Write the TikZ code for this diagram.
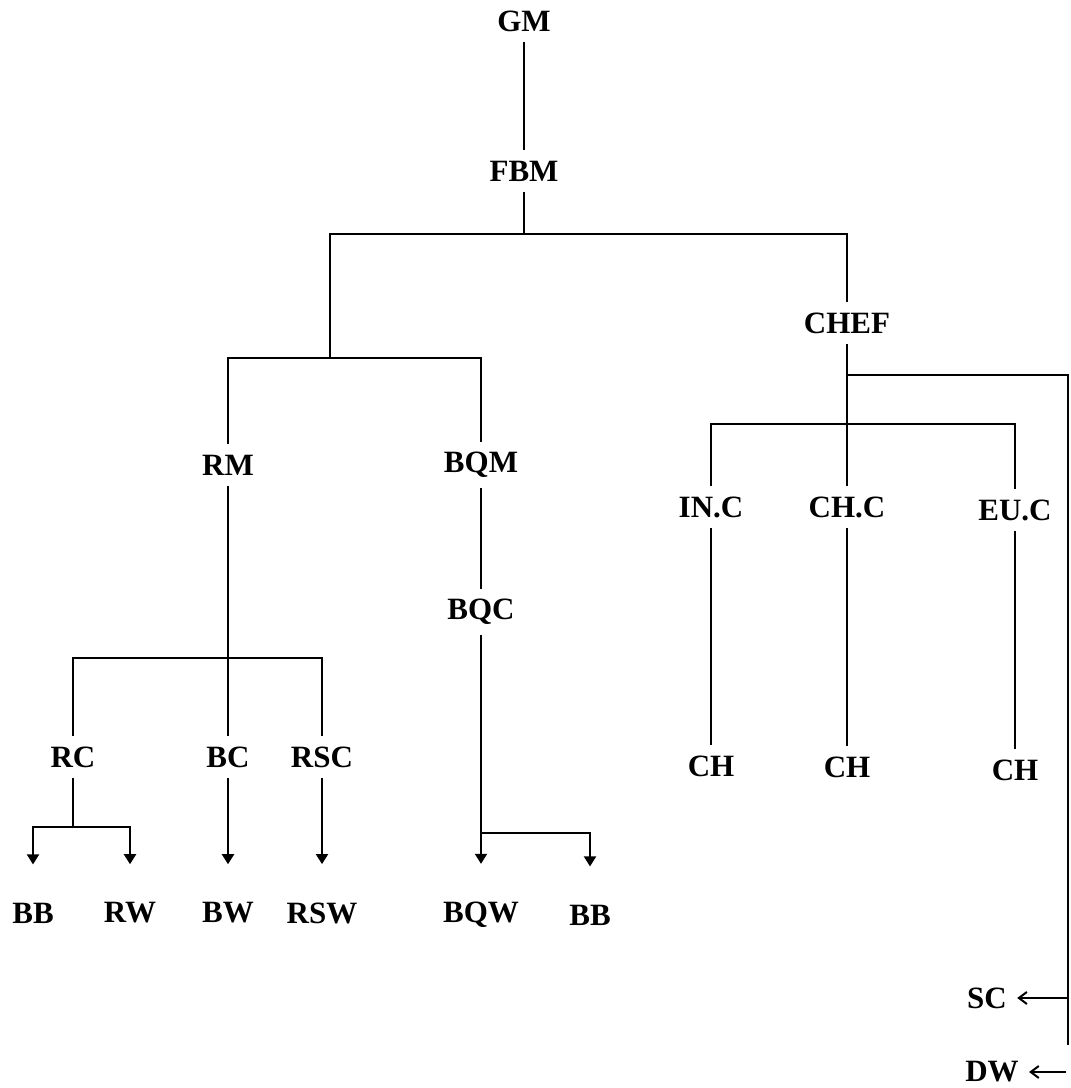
\documentclass[tikz,border=0pt]{standalone}
\usepackage{fontspec}
\setmainfont{Liberation Serif}
\usetikzlibrary{arrows.meta,positioning}

\begin{document}
\begin{tikzpicture}[
    x=0.5pt, y=-0.5pt,
    lbl/.style={font=\fontsize{15.5}{18}\selectfont\bfseries, inner sep=5pt},
    link/.style={line width=1pt},
    down/.style={link,-{Triangle[length=5pt,width=6pt]},shorten >=14pt},
    side/.style={link,-{Straight Barb[length=4pt,width=6pt]}}
  ]
  \useasboundingbox (0,0) rectangle (1071,1088);
  \node[lbl] (gm) at (524,21) {GM};
  \node[lbl] (fbm) at (524,171) {FBM};
  \node[lbl] (chef) at (847,323) {CHEF};
  \node[lbl] (rm) at (228,465) {RM};
  \node[lbl] (bqm) at (481,465) {BQM};
  \node[lbl] (bqc) at (481,612) {BQC};
  \node[lbl] (rc) at (73,757) {RC};
  \node[lbl] (bc) at (228,757) {BC};
  \node[lbl] (rsc) at (322,757) {RSC};
  \node[lbl] (bb1) at (33,913) {BB};
  \node[lbl] (rw) at (130,913) {RW};
  \node[lbl] (bw) at (228,913) {BW};
  \node[lbl] (rsw) at (322,913) {RSW};
  \node[lbl] (bqw) at (481,915) {BQW};
  \node[lbl] (bb2) at (590,915) {BB};
  \node[lbl] (inc) at (711,507) {IN.C};
  \node[lbl] (chc) at (847,507) {CH.C};
  \node[lbl] (euc) at (1015,510) {EU.C};
  \node[lbl] (ch1) at (711,766) {CH};
  \node[lbl] (ch2) at (847,767) {CH};
  \node[lbl] (ch3) at (1015,770) {CH};
  \node[lbl] (sc) at (987,998) {SC};
  \node[lbl] (dw) at (992,1072) {DW};

  \coordinate (fork1) at (524,234);
  \coordinate (fork2) at (330,358);
  \coordinate (fork3) at (228,658);
  \coordinate (fork4) at (73,827);
  \coordinate (fork5) at (481,833);
  \coordinate (fork6) at (847,375);
  \coordinate (fork7) at (847,424);
  \coordinate (rail) at (1068,1045);
  \coordinate (dwin) at (1066,1072);

  \draw[link] (gm) -- (fbm);
  \draw[link] (fbm) -- (fork1);
  \draw[link] (fork2) |- (fork1) -| (chef);
  \draw[link] (rm) |- (fork2) -| (bqm);
  \draw[link] (rm) -- (bc);
  \draw[link] (rc) |- (fork3) -| (rsc);
  \draw[link] (bqm) -- (bqc);
  \draw[link] (rc) -- (fork4);
  \draw[down] (fork4) -| (bb1);
  \draw[down] (fork4) -| (rw);
  \draw[down] (bc) -- (bw);
  \draw[down] (rsc) -- (rsw);
  \draw[link] (bqc) -- (fork5);
  \draw[down] (fork5) -- (bqw);
  \draw[down] (fork5) -| (bb2);
  \draw[link] (chef) -- (chc);
  \draw[link] (inc) |- (fork7) -| (euc);
  \draw[link] (inc) -- (ch1);
  \draw[link] (chc) -- (ch2);
  \draw[link] (euc) -- (ch3);
  \draw[link] (fork6) -| (rail);
  \draw[side] (rail |- sc) -- (sc);
  \draw[side] (dwin) -- (dw);
\end{tikzpicture}
\end{document}
